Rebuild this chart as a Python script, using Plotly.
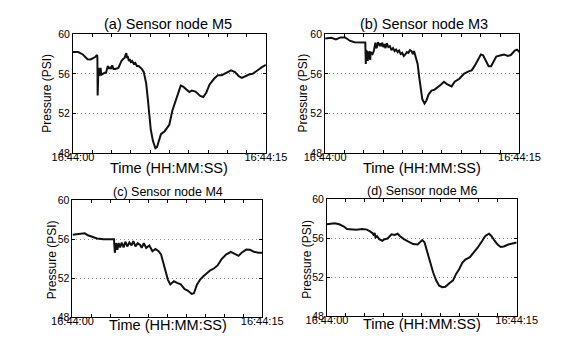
import plotly.graph_objects as go

# ---------------- data (seconds after 16:44:00, pressure in PSI) ----------------
t_a = [0,0.41,0.77,1.13,1.37,1.73,1.88,1.90,1.92,1.95,1.98,2.02,2.06,2.10,2.15,2.2,2.33,2.45,2.57,2.65,
       2.71,2.78,2.86,2.95,3.05,3.15,3.29,3.53,3.65,3.77,3.9,4.01,4.08,4.15,4.2,4.25,4.35,4.42,4.49,4.6,
       4.73,4.85,4.97,5.1,5.21,5.35,5.5,5.69,5.81,5.93,6.05,6.22,6.41,6.53,6.65,6.84,7.13,7.49,7.73,8.04,
       8.38,8.57,8.81,9.05,9.24,9.53,9.89,10.13,10.37,10.61,10.97,11.26,11.57,11.93,12.29,12.6,12.89,13.13,13.37,13.73,
       13.97,14.33,14.69,15]
p_a = [58.2,58.2,57.96,57.48,57.45,57.7,57.9,57.6,53.8,55.5,56.6,55.8,56.5,55.9,56.6,55.9,56.0,56.1,56.1,56.5,
       56.8,56.5,56.7,56.5,56.85,56.5,56.5,56.6,57.0,57.3,57.5,57.6,57.9,58.1,57.6,57.8,57.3,57.5,57.2,57.3,
       57.0,57.1,56.8,56.8,56.67,56.5,56.2,55.05,53.6,51.98,50.36,49.2,48.48,48.58,49.2,49.9,50.2,50.85,52.3,53.6,
       54.8,54.7,54.4,54.15,54.3,54.2,53.76,53.66,54.1,54.9,55.5,55.86,55.86,56.1,56.35,56.18,55.76,55.6,55.76,55.96,
       56.0,56.35,56.67,56.9]

t_b = [0,0.48,0.83,1.19,1.55,1.9,2.26,2.62,2.98,3.1,3.14,3.18,3.21,3.25,3.29,3.33,3.38,3.43,3.48,3.52,
       3.57,3.66,3.76,3.82,3.88,3.94,4.0,4.08,4.17,4.23,4.29,4.35,4.4,4.48,4.57,4.66,4.76,4.88,5.0,5.12,
       5.24,5.36,5.48,5.6,5.71,5.83,5.95,6.07,6.19,6.31,6.43,6.55,6.67,6.77,6.86,6.95,7.14,7.26,7.38,7.5,
       7.67,7.81,7.98,8.21,8.45,8.69,8.93,9.17,9.4,9.76,10.0,10.36,10.71,11.07,11.31,11.55,11.79,12.02,12.19,12.38,
       12.62,12.81,12.98,13.21,13.57,13.81,14.1,14.33,14.64,14.81,15]
p_b = [59.58,59.64,59.48,59.68,59.68,59.35,59.2,59.16,59.16,59.16,57.0,58.4,57.6,58.3,57.3,58.2,57.5,58.3,57.4,58.2,
       58.1,58.0,58.3,58.7,59.16,58.6,58.7,59.2,59.0,58.8,59.1,58.8,59.16,58.7,59.0,58.6,59.1,58.7,58.8,58.4,
       58.6,58.3,58.45,58.2,58.35,58.0,58.12,57.8,57.96,58.2,58.12,58.4,58.3,58.0,58.3,57.8,57.0,55.7,54.4,53.43,
       53.0,53.27,53.9,54.3,54.4,54.63,54.9,55.2,54.96,54.73,55.2,55.5,56.0,56.25,56.35,56.83,57.48,57.96,57.87,57.3,
       56.77,56.77,57.15,57.74,57.87,57.96,57.8,57.9,58.35,58.45,58.2]

t_c = [0,0.49,0.97,1.22,1.58,1.94,2.43,2.92,3.28,3.35,3.45,3.55,3.65,3.77,3.89,4.04,4.18,4.33,4.5,4.67,
       4.81,4.98,5.15,5.35,5.47,5.64,5.83,6.08,6.32,6.56,6.81,7.0,7.17,7.34,7.54,7.73,7.9,8.02,8.27,8.56,
       8.87,9.12,9.43,9.6,9.85,10.09,10.33,10.65,10.89,11.18,11.47,11.79,12.16,12.52,12.84,13.13,13.37,13.74,14.05,14.34,
       14.71,15]
p_c = [56.46,56.5,56.6,56.4,56.2,56.07,56.0,55.97,56.0,54.6,55.6,54.9,55.6,55.15,55.64,55.15,55.74,55.25,55.67,55.35,
       55.8,55.25,55.58,55.4,55.1,55.58,55.1,55.35,54.76,55.0,54.76,54.44,53.63,52.65,51.84,51.35,51.5,51.67,51.5,51.35,
       50.86,50.7,50.37,50.44,51.35,51.84,52.16,52.5,52.8,52.98,53.3,53.95,54.44,54.7,54.5,54.28,54.6,54.93,54.9,54.7,
       54.6,54.6]

t_d = [0,0.36,0.61,0.97,1.34,1.58,1.94,2.31,2.8,3.16,3.4,3.57,3.72,3.77,3.84,3.96,4.13,4.38,4.55,4.79,
       4.98,5.1,5.35,5.59,5.76,6.08,6.44,6.81,7.17,7.41,7.53,7.71,7.9,8.14,8.39,8.63,8.87,9.12,9.36,9.65,
       9.97,10.21,10.45,10.7,10.94,11.3,11.55,11.91,12.28,12.52,12.81,13.0,13.25,13.49,13.74,13.98,14.34,14.71,15]
p_d = [57.43,57.46,57.53,57.43,57.2,56.94,56.88,56.88,56.94,56.88,56.7,56.55,56.3,56.55,56.07,56.2,55.9,55.74,55.9,55.97,
       56.23,56.4,56.33,56.46,56.23,55.9,55.64,55.4,55.35,55.67,55.8,55.58,54.76,53.46,52.5,51.67,51.12,50.96,51.0,51.35,
       51.67,52.33,52.8,53.46,53.8,54.05,54.44,55.02,55.74,56.23,56.46,56.23,55.74,55.35,55.1,55.15,55.35,55.5,55.56]

titles = ["(a) Sensor node M5", "(b) Sensor node M3", "(c) Sensor node M4", "(d) Sensor node M6"]
x_tickvals = [0, 1.5, 3, 4.5, 6, 7.5, 9, 10.5, 12, 13.5, 15]
x_ticktext = ["16:44:00"] + [""] * 9 + ["16:44:15"]
y_tickvals = [48, 52, 56, 60]
y_ticktext = ["48", "52", "56", "60"]
x_label = "Time (HH:MM:SS)"
y_label = "Pressure (PSI)"

# ---------------- layout geometry (pixels) ----------------
W, H = 563, 342
panels = [  # x0, x1, ytop, ybottom
    (47.5, 256, 21, 144),
    (320, 530, 21, 144),
    (47, 252, 193, 314),
    (322, 527, 192, 313),
]
title_pos = [(150, 10.5, 14.5), (427, 10.5, 14.5), (150, 184, 12.5), (425, 183, 12.5)]
xlab_pos = [(151, 159.5), (425, 159.5), (150, 322.5), (425, 321.5)]
ylab_pos = [(20, 82), (296.5, 82), (25, 255), (300, 254)]

FONT = "Liberation Sans, Arial, Helvetica, sans-serif"

fig = go.Figure()
series = [(t_a, p_a), (t_b, p_b), (t_c, p_c), (t_d, p_d)]
layout = dict(
    width=W, height=H, margin=dict(l=0, r=0, t=0, b=0),
    paper_bgcolor="white", plot_bgcolor="white", showlegend=False,
    font=dict(family=FONT, color="black"),
)
annotations = []
for i, ((t, p), (x0, x1, yt, yb)) in enumerate(zip(series, panels)):
    k = "" if i == 0 else str(i + 1)
    fig.add_trace(go.Scatter(x=t, y=p, mode="lines", xaxis="x" + k, yaxis="y" + k,
                             line=dict(color="#111111", width=2)))
    layout["xaxis" + k] = dict(
        domain=[x0 / W, x1 / W], anchor="y" + k, range=[0, 15],
        tickvals=x_tickvals, ticktext=x_ticktext, ticks="inside", ticklen=3,
        tickcolor="black", showline=True, linecolor="black", linewidth=1,
        mirror="ticks", showgrid=False, zeroline=False, ticklabelstandoff=-6,
        tickfont=dict(size=11, family=FONT, color="black"),
    )
    layout["yaxis" + k] = dict(
        domain=[1 - yb / H, 1 - yt / H], anchor="x" + k, range=[48, 60],
        tickvals=y_tickvals, ticktext=y_ticktext, ticks="inside", ticklen=3,
        tickcolor="black", showline=True, linecolor="black", linewidth=1,
        mirror="ticks", showgrid=True, gridcolor="#8a8a8a", griddash="1px,3px",
        gridwidth=1, zeroline=False,
        tickfont=dict(size=10.5, family=FONT, color="black"),
    )
    tx, ty, ts = title_pos[i]
    annotations.append(dict(text=titles[i], x=tx / W, y=1 - ty / H, xref="paper", yref="paper",
                            showarrow=False, xanchor="center", yanchor="middle",
                            font=dict(size=ts, family=FONT, color="black")))
    lx, ly = xlab_pos[i]
    annotations.append(dict(text=x_label, x=lx / W, y=1 - ly / H, xref="paper", yref="paper",
                            showarrow=False, xanchor="center", yanchor="middle",
                            font=dict(size=14.5, family=FONT, color="black")))
    vx, vy = ylab_pos[i]
    annotations.append(dict(text=y_label, x=vx / W, y=1 - vy / H, xref="paper", yref="paper",
                            showarrow=False, xanchor="center", yanchor="middle", textangle=-90,
                            font=dict(size=12, family=FONT, color="black")))
layout["annotations"] = annotations
fig.update_layout(**layout)
fig.write_html("out.html")
